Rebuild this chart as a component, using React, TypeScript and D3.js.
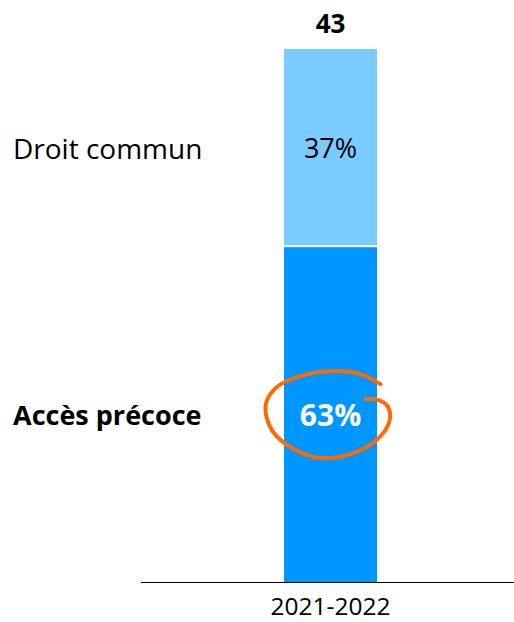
import React from "react";
import * as d3 from "d3";

const periods = ["2021-2022"];
const seriesNames = ["Accès précoce", "Droit commun"];
const accesPrecoce = [63];
const droitCommun = [37];
const totals = [43];

const W = 514;
const H = 622;
const FONT = "'Open Sans', 'DejaVu Sans', sans-serif";

// hand-drawn highlight loop around the 63% label, as offsets from the label centre
const loopOffsets: [number, number][] = [
  [50, -30], [30, -40], [5, -43], [-30, -38], [-55, -26], [-65, -8],
  [-58, 17], [-35, 36], [-10, 44], [20, 40], [45, 27], [59, 7],
  [57, -8], [48, -14], [35, -15],
];

export default function App() {
  const x = d3.scaleBand<string>().domain(periods).range([141, 520]).paddingInner(0).paddingOuter(1.5376);
  const y = d3.scaleLinear().domain([0, 100]).range([582, 49]);

  const rows = periods.map((p, i) => ({
    period: p,
    "Accès précoce": accesPrecoce[i],
    "Droit commun": droitCommun[i],
    total: totals[i],
  }));
  const stack = d3.stack<any>().keys(seriesNames)(rows);
  const colors: Record<string, string> = {
    "Accès précoce": "#0096FF",
    "Droit commun": "#7ACBFF",
  };

  const line = d3.line().curve(d3.curveCatmullRom.alpha(0.5));

  return (
    <svg width={W} height={H} style={{ position: "absolute", left: 0, top: 0 }} fontFamily={FONT}>
      {stack.map((layer) =>
        layer.map((d, i) => {
          const p = periods[i];
          const x0 = x(p)!;
          const yTop = y(d[1]);
          const yBot = y(d[0]);
          const top = layer.key === "Droit commun" ? yTop : yTop + 1;
          const bot = layer.key === "Droit commun" ? yBot - 1 : yBot;
          const cy = (yTop + yBot) / 2;
          const cx = x0 + x.bandwidth() / 2;
          const isAcces = layer.key === "Accès précoce";
          return (
            <g key={layer.key + p}>
              <rect x={x0} y={top} width={x.bandwidth()} height={bot - top} fill={colors[layer.key]} />
              <text
                x={cx}
                y={cy}
                textAnchor="middle"
                dominantBaseline="central"
                fontSize={isAcces ? 30 : 27}
                fontWeight={isAcces ? 700 : 400}
                fill={isAcces ? "#ffffff" : "#000000"}
              >
                {d[1] - d[0]}%
              </text>
              {i === 0 && (
                <text
                  x={13}
                  y={cy}
                  dominantBaseline="central"
                  fontSize={isAcces ? 27 : 28}
                  fontWeight={isAcces ? 700 : 400}
                  fill="#000"
                >
                  {layer.key}
                </text>
              )}
              {isAcces && (
                <path
                  d={line(loopOffsets.map(([dx, dy]) => [cx + dx, cy + dy]))!}
                  fill="none"
                  stroke="#FF6A00"
                  strokeWidth={4}
                  strokeLinecap="round"
                />
              )}
            </g>
          );
        })
      )}
      {rows.map((r) => (
        <text
          key={"t" + r.period}
          x={x(r.period)! + x.bandwidth() / 2}
          y={y(100) - 16}
          textAnchor="middle"
          fontSize={26}
          fontWeight={700}
        >
          {r.total}
        </text>
      ))}
      <line x1={141} x2={520} y1={y(0) + 0.5} y2={y(0) + 0.5} stroke="#000" strokeWidth={1} />
      {periods.map((p) => (
        <text key={p} x={x(p)! + x.bandwidth() / 2} y={y(0) + 33} textAnchor="middle" fontSize={24.5}>
          {p}
        </text>
      ))}
    </svg>
  );
}
